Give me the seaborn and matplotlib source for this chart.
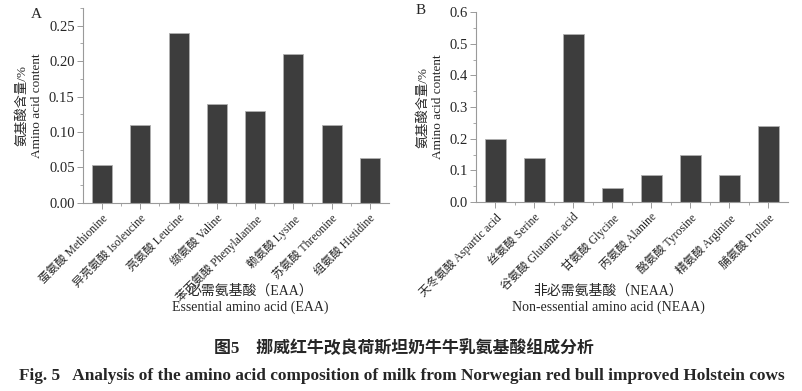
import matplotlib
matplotlib.use("Agg")
import matplotlib.pyplot as plt
import seaborn as sns
import pandas as pd
from matplotlib.ticker import MultipleLocator, AutoMinorLocator

sns.set_style("ticks")
plt.rcParams['font.family'] = ['Liberation Serif', 'Noto Sans CJK SC']
plt.rcParams['axes.unicode_minus'] = False

eaa_labels = ["蛋氨酸 Methionine", "异亮氨酸 Isoleucine", "亮氨酸 Leucine", "缬氨酸 Valine",
              "苯丙氨酸 Phenylalanine", "赖氨酸 Lysine", "苏氨酸 Threonine", "组氨酸 Histidine"]
eaa_values = [0.054, 0.11, 0.24, 0.14, 0.13, 0.21, 0.11, 0.063]

neaa_labels = ["天冬氨酸 Aspartic acid", "丝氨酸 Serine", "谷氨酸 Glutamic acid", "甘氨酸 Glycine",
               "丙氨酸 Alanine", "酪氨酸 Tyrosine", "精氨酸 Arginine", "脯氨酸 Proline"]
neaa_values = [0.20, 0.14, 0.53, 0.046, 0.085, 0.15, 0.085, 0.24]

ylabel = "氨基酸含量/%\nAmino acid content"
bar_color = "#3d3d3d"
spine_color = "#9a9a9a"

fig = plt.figure(figsize=(8.02, 3.91), dpi=100)
axA = fig.add_axes([0.1035, 0.481, 0.3815, 0.499])
axB = fig.add_axes([0.5935, 0.483, 0.389, 0.486])

def draw(ax, labels, values, ylim, major):
    df = pd.DataFrame({"aa": labels, "v": values})
    sns.barplot(data=df, x="aa", y="v", ax=ax, color=bar_color, width=0.52,
                edgecolor="#b0b0b0", linewidth=0.6, saturation=1)
    ax.set_xlim(-0.5, len(labels) - 0.5)
    ax.set_ylim(0, ylim)
    ax.yaxis.set_major_locator(MultipleLocator(major))
    ax.yaxis.set_minor_locator(AutoMinorLocator(2))
    ax.set_xticks(range(len(labels)))
    ax.set_xticks([i + 0.5 for i in range(len(labels) - 1)], minor=True)
    ax.set_xticklabels(labels, rotation=45, ha="right", rotation_mode="anchor", fontsize=8.4)
    ax.set_xlabel("")
    ax.set_ylabel(ylabel, fontsize=9.5, labelpad=4, linespacing=1.3)
    for s in ["top", "right"]:
        ax.spines[s].set_visible(False)
    for s in ["left", "bottom"]:
        ax.spines[s].set_color(spine_color)
        ax.spines[s].set_linewidth(0.8)
    ax.tick_params(axis="both", which="major", length=4, width=0.7, color=spine_color,
                   labelsize=10.5, pad=2)
    ax.tick_params(axis="x", which="major", labelsize=8.4, pad=3)
    ax.tick_params(axis="both", which="minor", length=2.5, width=0.6, color=spine_color)

draw(axA, eaa_labels, eaa_values, 0.275, 0.05)
axA.yaxis.set_major_formatter(matplotlib.ticker.FormatStrFormatter("%.2f"))
draw(axB, neaa_labels, neaa_values, 0.6, 0.1)
axB.yaxis.set_major_formatter(matplotlib.ticker.FormatStrFormatter("%.1f"))

fig.text(36 / 802, 1 - 15 / 391, "A", fontsize=11, ha="center", va="center")
fig.text(421 / 802, 1 - 10 / 391, "B", fontsize=11, ha="center", va="center")

fig.text(250 / 802, 1 - 299 / 391, "必需氨基酸（EAA）\nEssential amino acid (EAA)",
         fontsize=10, ha="center", va="center", linespacing=1.3)
fig.text(608 / 802, 1 - 299 / 391, "非必需氨基酸（NEAA）\nNon-essential amino acid (NEAA)",
         fontsize=10, ha="center", va="center", linespacing=1.3)

fig.text(404 / 802, 1 - 349 / 391, "图5　挪威红牛改良荷斯坦奶牛牛乳氨基酸组成分析",
         fontsize=12.2, ha="center", va="center", fontweight="bold")
fig.text(402 / 802, 1 - 376 / 391,
         "Fig. 5   Analysis of the amino acid composition of milk from Norwegian red bull improved Holstein cows",
         fontsize=12.4, ha="center", va="center", fontweight="bold")

fig.savefig("out.png", dpi=100)
